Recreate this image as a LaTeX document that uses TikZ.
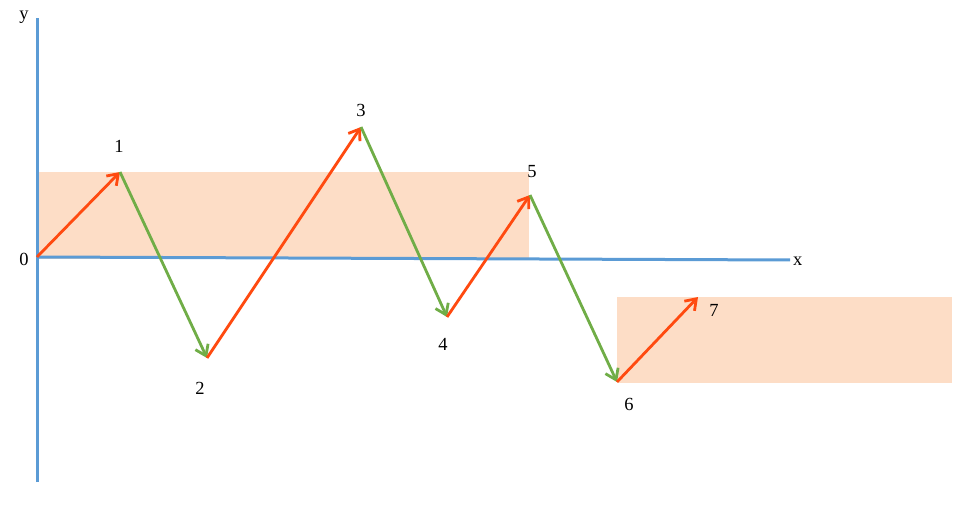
\documentclass[tikz,border=0pt]{standalone}
\usepackage{fontspec}
\setmainfont{Liberation Serif}
\usepackage{xcolor}
\usetikzlibrary{arrows.meta}

\definecolor{achse}{HTML}{5B9BD5}
\definecolor{rot}{HTML}{FF4A10}
\definecolor{gruen}{HTML}{70AD47}
\definecolor{feld}{HTML}{FDDDC6}

\begin{document}
\begin{tikzpicture}[x=1pt, y=-1pt,
				>={Straight Barb[length=10pt,width=14pt]},   %Pfeilspitzen
				hin/.style={->, rot, line width=2.8pt},
				her/.style={->, gruen, line width=2.8pt},
				marke/.style={inner sep=0pt, font=\fontsize{18.5}{21}\selectfont}]
				\useasboundingbox (0,0) rectangle (979,510);
				% Bereiche
				\fill[feld] (37,172) rectangle (529,259);
				\fill[feld] (617,297) rectangle (952,383);
				% Punkte
				\coordinate (p0) at (37,257);
				\coordinate (p1) at (120,172);
				\coordinate (p2) at (207,358);
				\coordinate (p3) at (361,127);
				\coordinate (p4) at (447,317);
				\coordinate (p5) at (530,195);
				\coordinate (p6) at (617,382);
				\coordinate (p7) at (698,297);
				\coordinate (xende) at (790,260);
				\coordinate (yoben) at (37,18);
				\coordinate (yunten) at (37,482);
				% Achsen zeichnen
				\draw[achse, line width=3pt] (yunten) -- (yoben);
				\draw[achse, line width=3pt] (p0) -- (xende);
				\node[marke] (ylabel) at (24,17) {y};
				\node[marke, anchor=west] (xlabel) at (793,261) {x};
				\node[marke] (l0) at (24,259) {0};
				% Pfeile
				\draw[hin] (p0) -- (p1);
				\draw[her] (p1) -- (p2);
				\draw[hin] (p2) -- (p3);
				\draw[her] (p3) -- (p4);
				\draw[hin] (p4) -- (p5);
				\draw[her] (p5) -- (p6);
				\draw[hin] (p6) -- (p7);
				% Beschriftung
				\node[marke] (l1) at (119,146) {1};
				\node[marke] (l2) at (200,388) {2};
				\node[marke] (l3) at (361,110) {3};
				\node[marke] (l4) at (443,344) {4};
				\node[marke] (l5) at (532,172) {5};
				\node[marke] (l6) at (629,404) {6};
				\node[marke] (l7) at (714,310) {7};
			\end{tikzpicture}
\end{document}
